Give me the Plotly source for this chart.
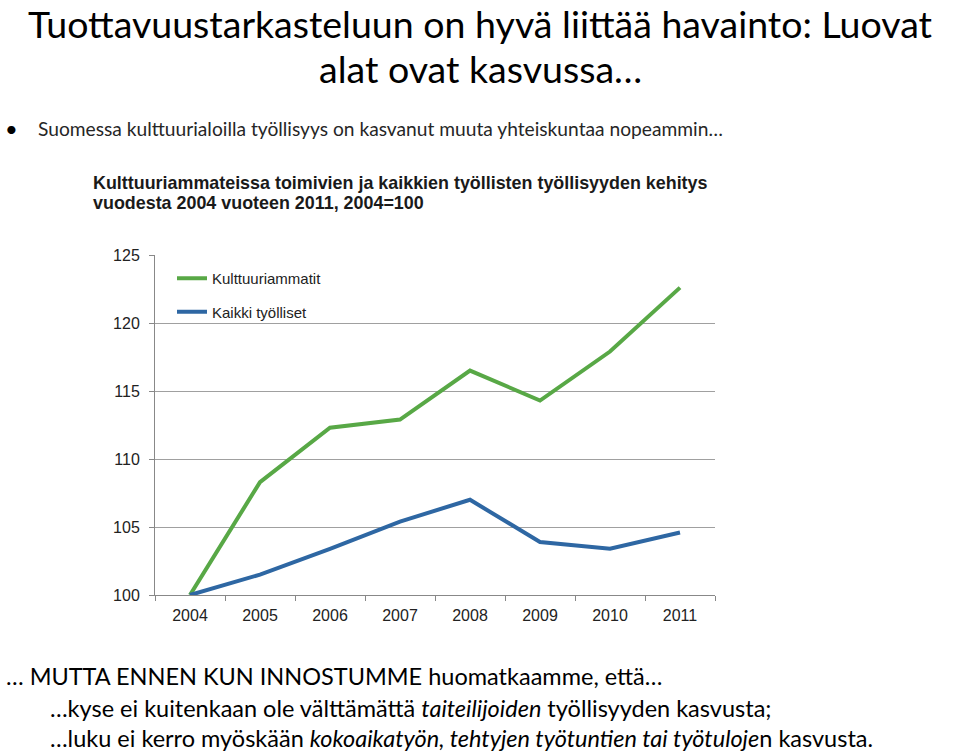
import plotly.graph_objects as go

years = ["2004", "2005", "2006", "2007", "2008", "2009", "2010", "2011"]
kulttuuri = [100, 108.3, 112.3, 112.9, 116.5, 114.3, 117.9, 122.6]
kaikki = [100, 101.5, 103.4, 105.4, 107.0, 103.9, 103.4, 104.6]
y_ticks = [100, 105, 110, 115, 120, 125]

W, H = 960, 755
L, R, T, B = 155, 715, 255, 595  # plot area in pixels

def px(x):
    return (x - L) / (R - L)

def py(y):
    return (B - y) / (B - T)

fig = go.Figure()
fig.add_trace(go.Scatter(x=years, y=kulttuuri, mode="lines", name="Kulttuuriammatit",
                         line=dict(color="#58a846", width=4), legendgroup="a"))
fig.add_trace(go.Scatter(x=years, y=kaikki, mode="lines", name="Kaikki työlliset",
                         line=dict(color="#2e67a3", width=4), legendgroup="b"))

title_font = "Lato, 'Open Sans', sans-serif"
body_font = "Lato, 'Open Sans', sans-serif"
arial = "Liberation Sans, Arial, sans-serif"

annotations = [
    dict(text="Tuottavuustarkasteluun on hyvä liittää havainto: Luovat", x=px(480), y=py(23),
         xanchor="center", yanchor="middle", font=dict(family=title_font, size=37.5, color="#000")),
    dict(text="alat ovat kasvussa…", x=px(480), y=py(69),
         xanchor="center", yanchor="middle", font=dict(family=title_font, size=37.5, color="#000")),
    dict(text="•", x=px(3), y=py(128), xanchor="left", yanchor="middle",
         font=dict(family=body_font, size=22, color="#000")),
    dict(text="Suomessa kulttuurialoilla työllisyys on kasvanut muuta yhteiskuntaa nopeammin…",
         x=px(36), y=py(128), xanchor="left", yanchor="middle",
         font=dict(family=body_font, size=19.2, color="#262626")),
    dict(text="<b>Kulttuuriammateissa toimivien ja kaikkien työllisten työllisyyden kehitys</b>",
         x=px(91), y=py(183), xanchor="left", yanchor="middle",
         font=dict(family=arial, size=17.9, color="#1a1a1a")),
    dict(text="<b>vuodesta 2004 vuoteen 2011, 2004=100</b>",
         x=px(91), y=py(203), xanchor="left", yanchor="middle",
         font=dict(family=arial, size=17.9, color="#1a1a1a")),
    dict(text="… MUTTA ENNEN KUN INNOSTUMME huomatkaamme, että…",
         x=px(4), y=py(676), xanchor="left", yanchor="middle",
         font=dict(family=body_font, size=23.5, color="#000")),
    dict(text="…kyse ei kuitenkaan ole välttämättä <i>taiteilijoiden</i> työllisyyden kasvusta;",
         x=px(48), y=py(708), xanchor="left", yanchor="middle",
         font=dict(family=body_font, size=23.5, color="#000")),
    dict(text="…luku ei kerro myöskään <i>kokoaikatyön, tehtyjen työtuntien tai työtuloje</i>n kasvusta.",
         x=px(48), y=py(738), xanchor="left", yanchor="middle",
         font=dict(family=body_font, size=23.5, color="#000")),
]
for a in annotations:
    a.update(xref="paper", yref="paper", showarrow=False)

fig.update_layout(
    width=W, height=H,
    margin=dict(l=L, r=W - R, t=T, b=H - B, pad=0),
    paper_bgcolor="white", plot_bgcolor="white",
    annotations=annotations,
    showlegend=True,
    legend=dict(x=px(172), y=py(262), xanchor="left", yanchor="top",
                bgcolor="rgba(0,0,0,0)", traceorder="grouped", tracegroupgap=11,
                font=dict(family=arial, size=15, color="#222")),
    xaxis=dict(type="category", range=[-0.5, 7.5], showgrid=False, showline=True,
               linecolor="#888", linewidth=1, ticks="outside", tickson="boundaries",
               ticklen=5, tickcolor="#888", ticklabelstandoff=6,
               tickfont=dict(family=arial, size=16, color="#222")),
    yaxis=dict(range=[100, 125], tickvals=y_ticks, showgrid=True, gridcolor="#a0a0a0",
               gridwidth=1, showline=True, linecolor="#888", linewidth=1, ticks="outside",
               ticklen=5, tickcolor="#888", zeroline=False, ticklabelstandoff=6,
               tickfont=dict(family=arial, size=16, color="#222")),
)

fig.write_html("out.html")
